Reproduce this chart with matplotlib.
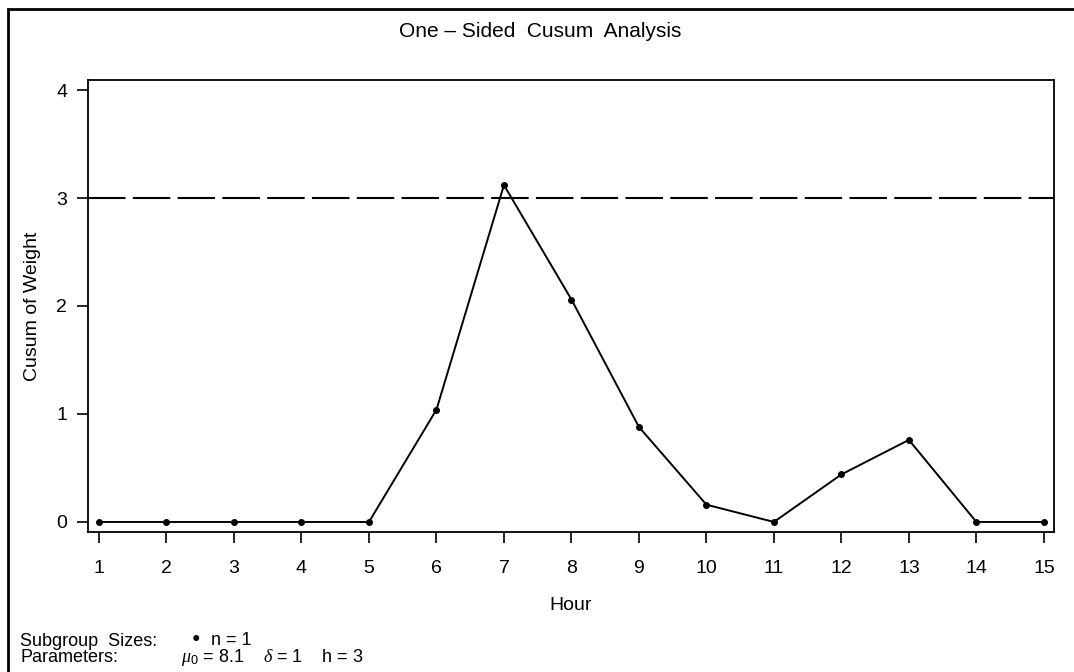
import matplotlib.pyplot as plt
from matplotlib.patches import Rectangle

plt.rcParams['font.family'] = ['Liberation Sans', 'DejaVu Sans']
plt.rcParams['mathtext.fontset'] = 'custom'
plt.rcParams['mathtext.it'] = 'Liberation Serif:italic'
plt.rcParams['mathtext.rm'] = 'Liberation Sans'

# cusum values per hour
hours = list(range(1, 16))
cusum = [0, 0, 0, 0, 0, 1.04, 3.12, 2.06, 0.88, 0.16, 0, 0.44, 0.76, 0, 0]
h_limit = 3
y_ticks = [0, 1, 2, 3, 4]

W, H = 1074, 672
fig = plt.figure(figsize=(W / 100, H / 100), dpi=100)
ax = fig.add_axes([88 / W, 1 - 532 / H, (1054 - 88) / W, (532 - 80) / H])

ax.plot(hours, cusum, color='black', lw=1.4, marker='o', ms=4, zorder=3)
ax.axhline(h_limit, color='black', lw=1.5, dashes=(18, 3.5))

ax.set_xlim(0.837, 15.15)
ax.set_ylim(-0.093, 4.093)
ax.set_xticks(hours)
ax.set_yticks(y_ticks)
ax.tick_params(axis='x', direction='out', length=8, width=1.2, labelsize=14, pad=12)
ax.tick_params(axis='y', direction='out', length=8, width=1.2, labelsize=14, pad=7)
for side in ['left', 'bottom', 'right', 'top']:
    ax.spines[side].set_linewidth(1.3)

ax.set_xlabel('Hour', fontsize=14, va='baseline')
ax.xaxis.set_label_coords(0.5, -(610 - 532) / (532 - 80))
ax.set_ylabel('Cusum of Weight', fontsize=14, va='center')
ax.yaxis.set_label_coords(-(88 - 33) / (1054 - 88), 0.5)

fig.text(540 / W, 1 - 37 / H, 'One \u2013 Sided  Cusum  Analysis', ha='center', va='baseline',
         fontsize=15)

# outer frame
fig.add_artist(Rectangle((8 / W, -0.05), 1.1, 1 - 9 / H + 0.05, transform=fig.transFigure,
                         fill=False, lw=2, ec='black'))

fig.text(20 / W, 1 - 646 / H, 'Subgroup  Sizes:', fontsize=13, va='baseline')
fig.text(20 / W, 1 - 662 / H, 'Parameters:', fontsize=13, va='baseline')
fig.text(196 / W, 1 - 638 / H, '\u25cf', fontsize=10, va='center', ha='center')
fig.text(211 / W, 1 - 645 / H, 'n = 1', fontsize=13, va='baseline')
fig.text(181 / W, 1 - 662 / H, r'$\mu_{0}$ = 8.1    $\delta$ = 1    h = 3', fontsize=13, va='baseline')

fig.savefig('out.png', dpi=100)
